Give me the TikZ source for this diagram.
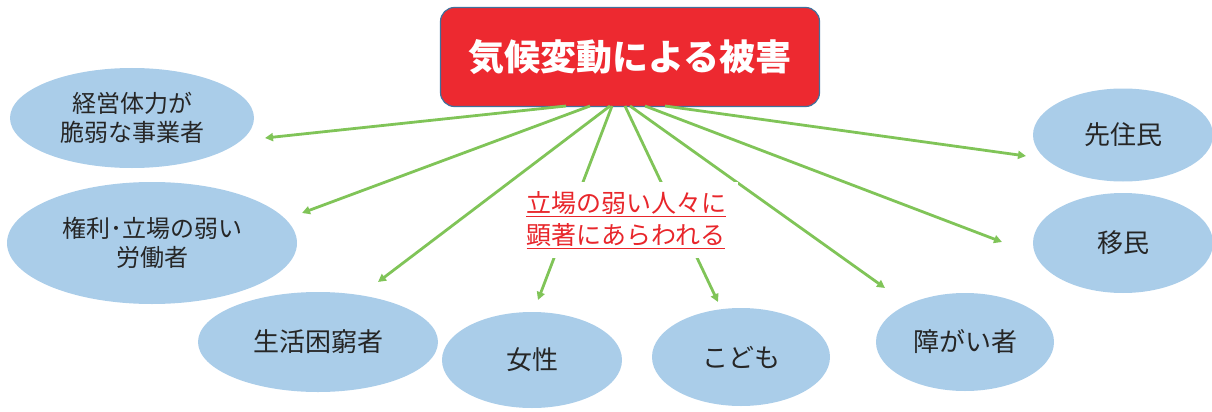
\documentclass[tikz,border=0pt]{standalone}
\usepackage{fontspec}
\setmainfont{Noto Sans CJK JP}
\usetikzlibrary{shapes.geometric,arrows.meta}
\definecolor{boxred}{RGB}{237,41,48}
\definecolor{boxedge}{RGB}{65,113,156}
\definecolor{ellfill}{RGB}{170,205,233}
\definecolor{arrgreen}{RGB}{128,196,88}
\definecolor{txtdark}{RGB}{38,38,38}
\definecolor{txtred}{RGB}{232,38,43}
\begin{document}
\begin{tikzpicture}[x=1pt,y=-1pt,
  oval/.style={ellipse,fill=ellfill,draw=none,inner sep=0pt,text=txtdark,align=center,font=\fontsize{26}{30}\selectfont},
  ovalsmall/.style={oval,font=\fontsize{24}{29}\selectfont},
  conn/.style={draw=arrgreen,line width=2.8pt,-{Triangle[length=8pt,width=8pt]}}]
\useasboundingbox (0,0) rectangle (1212,412);
% title
\node[draw=boxedge,line width=1.2pt,fill=boxred,rounded corners=14pt,minimum width=379pt,minimum height=99pt,inner sep=0pt,
  text=white,font=\fontsize{36}{40}\selectfont\bfseries] (title) at (630,57) {気候変動による被害};
% ellipses
\node[ovalsmall,minimum width=244pt,minimum height=100pt] (e1) at (132,118) {経営体力が\\脆弱な事業者};
\node[ovalsmall,minimum width=290pt,minimum height=122pt] (e2) at (152,243) {権利･立場の弱い\\労働者};
\node[oval,minimum width=240pt,minimum height=100pt] (e3) at (318,342) {生活困窮者};
\node[oval,minimum width=180pt,minimum height=96pt] (e4) at (532,360) {女性};
\node[oval,minimum width=178pt,minimum height=98pt] (e5) at (741,357) {こども};
\node[oval,minimum width=178pt,minimum height=98pt] (e6) at (965,342) {障がい者};
\node[oval,minimum width=180pt,minimum height=93pt] (e7) at (1123,135) {先住民};
\node[oval,minimum width=180pt,minimum height=100pt] (e8) at (1123,243) {移民};
% connector ends
\coordinate (s1) at (566,106); \coordinate (t1) at (265,138);
\coordinate (s2) at (590,106); \coordinate (t2) at (302,213);
\coordinate (s3) at (610,106); \coordinate (t3) at (378,282);
\coordinate (s4) at (612,106); \coordinate (t4) at (538,300);
\coordinate (s5) at (625,106); \coordinate (t5) at (718,302);
\coordinate (s6) at (630,106); \coordinate (t6) at (885,288);
\coordinate (s7) at (645,106); \coordinate (t7) at (1002,242);
\coordinate (s8) at (665,106); \coordinate (t8) at (1026,156);
\foreach \i in {1,...,8} { \draw[conn] (s\i) -- (t\i); }
% red caption (white background hides middle of arrows)
\node[fill=white,minimum width=223pt,minimum height=76pt,inner sep=0pt,text=txtred,align=center,
  font=\fontsize{25}{32}\selectfont] (cap) at (626,220) {\underline{立場の弱い人々に}\\\underline{顕著にあらわれる}};
\end{tikzpicture}
\end{document}
